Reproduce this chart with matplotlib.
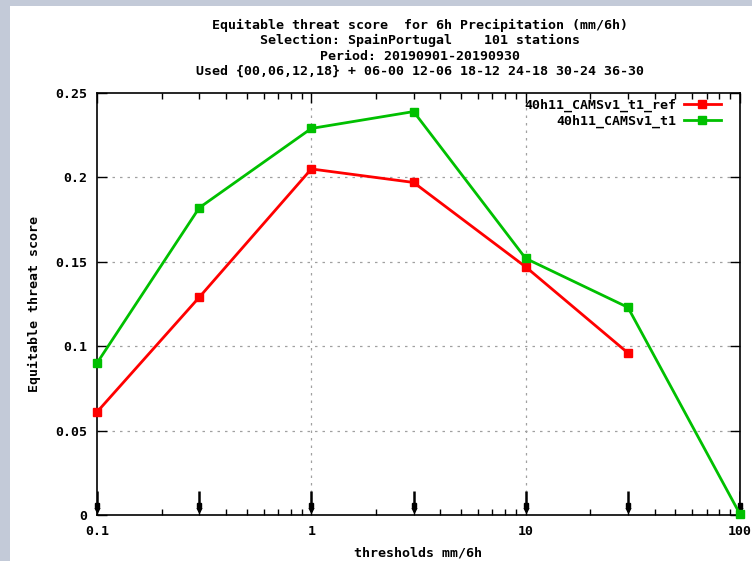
import matplotlib
matplotlib.use("Agg")
import matplotlib.pyplot as plt
from matplotlib.patches import Rectangle
from matplotlib.ticker import FixedLocator, NullFormatter, FixedFormatter

thresholds = [0.1, 0.3, 1, 3, 10, 30, 100]
ref_x = [0.1, 0.3, 1, 3, 10, 30]
ref_vals = [0.061, 0.129, 0.205, 0.197, 0.147, 0.096]
t1_x = [0.1, 0.3, 1, 3, 10, 30, 100]
t1_vals = [0.090, 0.182, 0.229, 0.239, 0.152, 0.123, 0.0005]
series_names = ["40h11_CAMSv1_t1_ref", "40h11_CAMSv1_t1"]
arrow_top = 0.0142
arrow_mark = 0.0058
arrow_tip = 0.0022

title_lines = [
    "Equitable threat score  for 6h Precipitation (mm/6h)",
    "Selection: SpainPortugal    101 stations",
    "Period: 20190901-20190930",
    "Used {00,06,12,18} + 06-00 12-06 18-12 24-18 30-24 36-30",
]

FONT = dict(family="DejaVu Sans Mono", weight="bold", size=9.5)

fig = plt.figure(figsize=(7.52, 5.61), dpi=100)
fig.patch.set_facecolor("#c3cad8")
bg = Rectangle((10 / 752, 0), 1, 1 - 6 / 561, transform=fig.transFigure,
               facecolor="white", edgecolor="none", zorder=-10)
fig.add_artist(bg)

ax = fig.add_axes([97 / 752, 46 / 561, 643 / 752, 422 / 561])
ax.set_zorder(5)
ax.set_facecolor("white")
ax.set_xscale("log")
ax.set_xlim(0.1, 100)
ax.set_ylim(0, 0.25)

# grid
for gx in [1, 10]:
    ax.axvline(gx, color="#a0a0a0", lw=0.9, ls=(0, (2, 4)), zorder=1)
for gy in [0.05, 0.1, 0.15, 0.2]:
    ax.axhline(gy, color="#a0a0a0", lw=0.9, ls=(0, (2, 4)), zorder=1)

ax.xaxis.set_major_locator(FixedLocator([0.1, 1, 10, 100]))
ax.xaxis.set_major_formatter(FixedFormatter(["0.1", "1", "10", "100"]))
minors = [m * d for d in [0.1, 1, 10] for m in range(2, 10)]
ax.xaxis.set_minor_locator(FixedLocator(minors))
ax.xaxis.set_minor_formatter(NullFormatter())
ax.yaxis.set_major_locator(FixedLocator([0, 0.05, 0.1, 0.15, 0.2, 0.25]))
ax.yaxis.set_major_formatter(FixedFormatter(["0", "0.05", "0.1", "0.15", "0.2", "0.25"]))

ax.tick_params(axis="both", which="major", direction="in", length=7, width=1,
               top=True, right=True, pad=7)
ax.tick_params(axis="both", which="minor", direction="in", length=4, width=1,
               top=True, right=True)
for lab in ax.get_xticklabels() + ax.get_yticklabels():
    lab.set_fontfamily(FONT["family"])
    lab.set_fontweight("bold")
    lab.set_fontsize(FONT["size"])
for s in ax.spines.values():
    s.set_linewidth(1.2)
    s.set_color("black")

# arrows at thresholds
ax.vlines(thresholds, [arrow_tip] * len(thresholds), [arrow_top] * len(thresholds),
          color="black", lw=1.8, zorder=3)
ax.plot(thresholds, [arrow_mark] * len(thresholds), "s", color="black", ms=3.5, zorder=3,
        clip_on=False)
ax.plot(thresholds, [arrow_tip + 0.001] * len(thresholds), "v", color="black", ms=3.5,
        zorder=3, clip_on=False)

ax.plot(ref_x, ref_vals, color="#ff0000", lw=2, marker="s", ms=6, label=series_names[0],
        zorder=4, clip_on=False)
ax.plot(t1_x, t1_vals, color="#00c000", lw=2, marker="s", ms=6, label=series_names[1],
        zorder=4, clip_on=False)

leg = ax.legend(loc="upper right", frameon=False, markerfirst=False,
                bbox_to_anchor=(1 - 10 / 643, 1 + 4 / 422),
                prop=dict(family=FONT["family"], weight="bold", size=FONT["size"]),
                handlelength=2.8, borderaxespad=0.3, labelspacing=0.25, handletextpad=0.6)

ax.set_xlabel("thresholds mm/6h", fontdict=FONT, labelpad=6)
ax.set_ylabel("Equitable threat score", fontdict=FONT, labelpad=10)

for i, line in enumerate(title_lines):
    fig.text(420 / 752, 1 - (25.5 + 15.3 * i) / 561, line, ha="center", va="center", **FONT)

fig.savefig("out.png", dpi=100, facecolor=fig.get_facecolor())
